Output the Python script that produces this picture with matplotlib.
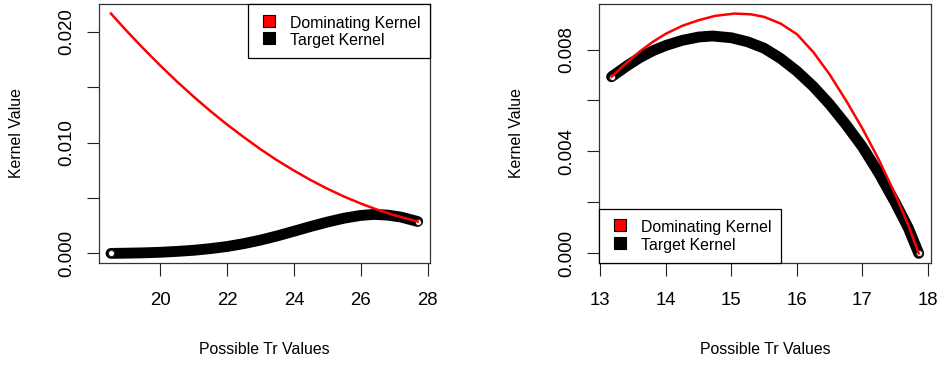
import numpy as np
import matplotlib
matplotlib.use("Agg")
import matplotlib.pyplot as plt
from matplotlib.lines import Line2D

plt.rcParams["font.family"] = ["Liberation Sans", "DejaVu Sans"]

# ---- values ----
# left panel
left_dom_x = [18.53, 19.0, 19.5, 20.0, 20.5, 21.0, 21.5, 22.0, 22.5, 23.0, 23.5, 24.0,
              24.5, 25.0, 25.5, 26.0, 26.5, 27.0, 27.70]
left_dom_y = [0.02166, 0.02009, 0.01850, 0.01698, 0.01553, 0.01416, 0.01286, 0.01164,
              0.01050, 0.00941, 0.00840, 0.00748, 0.00662, 0.00584, 0.00513, 0.00450,
              0.00394, 0.00345, 0.00288]
left_tgt_x = [18.53, 19.0, 19.5, 20.0, 20.5, 21.0, 21.5, 22.0, 22.5, 23.0, 23.5, 24.0,
              24.5, 25.0, 25.5, 26.0, 26.4, 26.8, 27.2, 27.70]
left_tgt_y = [0.0, 0.00002, 0.00005, 0.00010, 0.00018, 0.00028, 0.00043, 0.00062,
              0.00088, 0.00120, 0.00158, 0.00200, 0.00243, 0.00283, 0.00318, 0.00343,
              0.00352, 0.00346, 0.00328, 0.00288]

# right panel
right_dom_x = [13.17, 13.4, 13.6, 13.8, 14.0, 14.25, 14.5, 14.75, 15.05, 15.3, 15.5,
               15.75, 16.0, 16.25, 16.5, 16.75, 17.0, 17.25, 17.5, 17.7, 17.86]
right_dom_y = [0.00693, 0.00748, 0.00792, 0.00830, 0.00862, 0.00893, 0.00915, 0.00932,
               0.00941, 0.00938, 0.00928, 0.00902, 0.00860, 0.00790, 0.00702, 0.00600,
               0.00490, 0.00368, 0.00232, 0.00112, 0.0]
right_tgt_x = [13.17, 13.4, 13.6, 13.8, 14.0, 14.25, 14.5, 14.71, 15.0, 15.25, 15.5,
               15.75, 16.0, 16.25, 16.5, 16.75, 17.0, 17.25, 17.5, 17.7, 17.86]
right_tgt_y = [0.00693, 0.00735, 0.00768, 0.00795, 0.00816, 0.00836, 0.00849, 0.00853,
               0.00846, 0.00830, 0.00805, 0.00765, 0.00715, 0.00655, 0.00585, 0.00505,
               0.00418, 0.00315, 0.00200, 0.00100, 0.0]

left_xticks = [20, 22, 24, 26, 28]
left_yticks = [0.0, 0.005, 0.010, 0.015, 0.020]
left_ylabels = ["0.000", "", "0.010", "", "0.020"]
right_xticks = [13, 14, 15, 16, 17, 18]
right_yticks = [0.0, 0.002, 0.004, 0.006, 0.008]
right_ylabels = ["0.000", "", "0.004", "", "0.008"]

labels = ["Dominating Kernel", "Target Kernel"]


def r_lim(*arrs):
    # R-style 4% axis expansion
    lo = min(min(a) for a in arrs); hi = max(max(a) for a in arrs)
    pad = 0.04 * (hi - lo)
    return lo - pad, hi + pad


def panel(ax, dx, dy, tx, ty, xt, yt, ylab, loc):
    ax.plot(tx, ty, color="black", lw=7.8, solid_capstyle="round", solid_joinstyle="round", zorder=2)
    ax.plot([tx[0], tx[-1]], [ty[0], ty[-1]], ls="none", marker="o", ms=4.5,
            mfc="white", mec="#222222", mew=0.8, zorder=3)
    ax.plot(dx, dy, color="red", lw=1.8, zorder=4)
    ax.set_xlim(*r_lim(dx, tx)); ax.set_ylim(*r_lim(dy, ty))
    ax.set_xticks(xt); ax.set_yticks(yt); ax.set_yticklabels(ylab)
    ax.tick_params(axis="both", length=9, width=0.8, labelsize=13.4, color="#222222")
    ax.tick_params(axis="x", pad=12.0)
    ax.tick_params(axis="y", pad=8.0, labelrotation=90)
    for t in ax.get_yticklabels():
        t.set_va("center")
    for s in ax.spines.values():
        s.set_linewidth(0.9); s.set_color("#333333")
    ax.set_xlabel("Possible Tr Values", fontsize=11.4)
    ax.set_ylabel("Kernel Value", fontsize=11.4)
    ax.xaxis.set_label_coords(0.5, -0.3355); ax.xaxis.label.set_va("center")
    ax.yaxis.set_label_coords(-0.2496, 0.5); ax.yaxis.label.set_va("center")
    handles = [Line2D([], [], ls="none", marker="s", ms=8, mfc="red", mec="black", mew=0.8),
               Line2D([], [], ls="none", marker="s", ms=8, mfc="black", mec="black", mew=0.8)]
    leg = ax.legend(handles, labels, loc=loc, borderaxespad=0, fontsize=11.4, fancybox=False,
                    borderpad=0.61, handlelength=1.4, handleheight=1.32, handletextpad=0.61,
                    labelspacing=0.0, framealpha=1)
    leg.get_frame().set_edgecolor("black"); leg.get_frame().set_linewidth(0.9)


fig = plt.figure(figsize=(9.39, 3.65), dpi=100)
ax1 = fig.add_axes([0.1051, 0.2795, 0.3528, 0.7096])
ax2 = fig.add_axes([0.6382, 0.2795, 0.3533, 0.7096])
panel(ax1, left_dom_x, left_dom_y, left_tgt_x, left_tgt_y, left_xticks, left_yticks, left_ylabels, "upper right")
panel(ax2, right_dom_x, right_dom_y, right_tgt_x, right_tgt_y, right_xticks, right_yticks, right_ylabels, "lower left")

fig.savefig("out.png", dpi=100)
